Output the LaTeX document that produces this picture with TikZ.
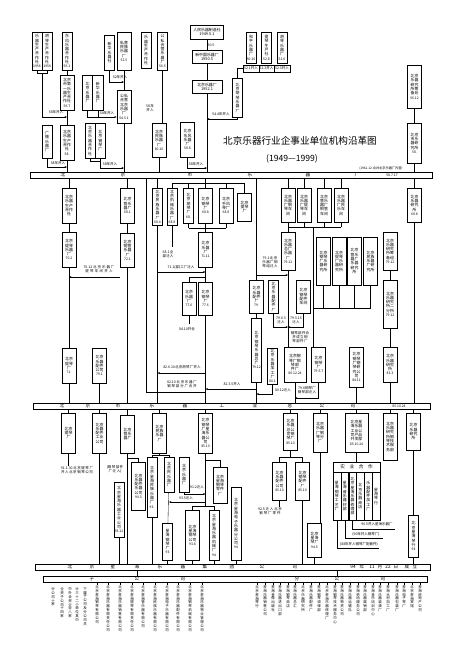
\documentclass[tikz,border=0pt]{standalone}
\usepackage{fontspec}
\setmainfont{Noto Sans CJK SC}
\usetikzlibrary{arrows.meta}
\XeTeXlinebreaklocale "zh"
\XeTeXlinebreakskip=0pt plus 1pt
\newcommand\boxsize{\fontsize{3.9}{4.3}\selectfont}
\newcommand\datesize{\fontsize{3.4}{4.3}\selectfont}
\newcommand\barsize{\fontsize{4.6}{5}\selectfont}
\newcommand\labsize{\fontsize{3.5}{4}\selectfont}
\newcommand\vtsize{\fontsize{3.5}{3.9}\selectfont}
\newcommand\yr[1]{\par\hbox to\hsize{\hss\datesize #1\hss}}
\tikzset{
  obox/.style={draw, anchor=north, inner xsep=3pt, inner ysep=1.2pt, text width=4.2pt, align=center, font=\boxsize},
  dbox/.style={obox, text width=8.2pt},
  tbox/.style={obox, text width=12.4pt, inner xsep=5pt},
  hbx/.style={draw, anchor=north, inner sep=1.3pt, align=center, font=\boxsize},
  cbox/.style={obox, inner xsep=1.9pt, text width=4pt},
  lab/.style={inner sep=0.4pt, align=center, font=\labsize},
  vt/.style={anchor=north, inner sep=0.3pt, text width=3.6pt, align=center, font=\vtsize},
  band/.style={draw, minimum height=6pt, inner sep=0pt, anchor=west},
  mv/.style={-{Stealth[length=2.4pt,width=1.8pt]}},
}
\begin{document}
\begin{tikzpicture}[x=1pt, y=-1pt, line width=0.35pt]
\fill[white] (0,0) rectangle (450,657);
\useasboundingbox (0,0) rectangle (450,657);

\node[band, minimum width=402pt] (bar1) at (30,175) {};
\node[band, minimum width=397pt] (bar2) at (33,406) {};
\node[band, minimum width=395pt] (bar3) at (35,567) {};
\node[band, minimum width=384pt] (bar4) at (43,579) {};
\foreach \x/\ch in {63/北,123/京,190/市,250/乐,308/器,357/厂}
  \node[font=\barsize] (a\x) at (\x,175) {\ch};
\node[font=\datesize] (a1) at (392,175) {58.7.17};
\foreach \x/\ch in {62/北,88/京,118/市,152/乐,185/器,222/工,255/业,290/总,322/公,353/司}
  \node[font=\barsize] (b\x) at (\x,406) {\ch};
\node[font=\datesize] (b1) at (399,406) {85.10.24};
\foreach \x/\ch in {70/北,92/京,113/星,137/海,160/乐,183/器,205/集,232/团,262/公,295/司,353/94,362/年,372/11,380/月,388/22,396/日,407/成,415/立}
  \node[font=\barsize] (c\x) at (\x,567) {\ch};
\foreach \x/\ch in {92/子,137/公,183/司,297/分,337/公,383/司}
  \node[font=\barsize] (d\x) at (\x,579) {\ch};
\draw (137,0 |- bar3.south) -- (137,0 |- bar4.north);
\draw (337,0 |- bar3.south) -- (337,0 |- bar4.north);

% 1949--1958
\node[obox, minimum height=38pt] (t1) at (37,32) {乐器生产合作社\yr{1956}};
\node[obox, minimum height=38pt] (t2) at (47.2,32) {胡琴生产合作社\yr{1956}};
\node[obox, minimum height=38pt] (t3) at (67,32) {东风乐器合作社\yr{56.1}};
\node[dbox, minimum height=35pt] (t4) at (67,75) {北京市第一乐器生产合作社\yr{56.7}};
\node[obox, minimum height=33pt] (t5) at (47,125) {广播乐器厂};
\node[dbox, minimum height=35pt] (t6) at (67,125) {北京乐器生产合作社\yr{58.}};
\node[lab] (t7) at (56,112) {58年并入};
\node[lab] (t8) at (58,163) {58年并入};
\coordinate (t12) at (42.1,73);
\draw (t1.south) |- (t2.south |- t12) -- (t2.south);
\draw[mv] (t12) |- (t4.south |- 0,117);
\draw (t3) -- (t4);
\draw (t4) -- (t6);
\draw[mv] (t5.south) |- (t6.south |- 0,167);
\draw (t6.south) -- (t6.south |- bar1.north);

\node[obox, minimum height=35pt] (m1) at (109.5,35) {新华乐器社};
\node[dbox, minimum height=38pt] (m2) at (124,32) {私营民族乐器厂\yr{52.5}};
\node[obox, minimum height=36pt] (m3) at (146,32) {乐器生产合作社};
\node[obox, minimum height=38pt] (m4) at (162.5,32) {公私合营乐器厂\yr{56.5}};
\node[obox, minimum height=35pt] (m5) at (87.5,75) {北京乐器厂};
\node[obox, minimum height=35pt] (m6) at (97.7,75) {新华乐器厂};
\node[dbox, minimum height=33pt] (m7) at (124,90) {公私合营北京乐器厂\yr{54.5.1}};
\node[obox, minimum height=35pt] (m8) at (90,123) {北京乐器合作社};
\node[obox, minimum height=35pt] (m9) at (100.2,123) {北京钢琴厂};
\node[dbox, minimum height=34pt] (m10) at (159,123) {北京民族乐器厂\yr{60.10}};
\node[dbox, minimum height=35pt] (m11) at (187.5,122) {北京东风乐器厂\yr{58.8}};
\node[lab] (m12) at (120,77) {52年并入};
\node[lab] (m13) at (107,113) {54年并入};
\node[lab] (m14) at (110,164) {58年并入};
\node[lab, text width=10pt] (m15) at (150,108) {58年并入};
\node[lab] (m16) at (196,164) {58年并入};
\draw (m2) -- (m7);
\draw[mv] (m1.south) |- (m2.south |- 0,82);
\draw (m5.south) |- (m6.south |- 0,117);
\draw[mv] (m6.south) |- (m7.west |- 0,117);
\draw (m7.south) -- (m7.south |- bar1.north);
\draw (m8.south) |- (m9.south |- 0,161);
\draw[mv] (m9.south) |- (m7.south |- 0,168);
\draw (m4.south) -- (m4.south |- m10.north);
\draw (m10.south) -- (m10.south |- bar1.north);

\node[hbx, minimum width=33pt, minimum height=14pt] (c1) at (207,25) {人民乐器制造社\\1949.5.1};
\node[lab] (c4) at (211,45) {50.5};
\node[hbx, minimum width=30pt, minimum height=13pt] (c2) at (207,50) {新中国乐器厂\\1950.5};
\node[hbx, minimum width=30pt, minimum height=13pt] (c3) at (207,80) {北京乐器厂\\1952.1};
\draw (c1) -- (c2);
\draw (c2) -- (c3);
\draw (c3.south) -- (c3.south |- bar1.north);
\draw[mv] (m11.south) |- (c3.south |- 0,168);

\node[obox, minimum height=31pt] (d1) at (251,32) {和平乐器厂\yr{50.10}};
\node[obox, minimum height=31pt] (d2) at (266.5,32) {提琴生产社\yr{52.8}};
\node[obox, minimum height=31pt] (d3) at (282,32) {胡琴乐器厂\yr{51.6}};
\node[lab, draw, minimum width=15.5pt, minimum height=7pt] (d5) at (251,68.5) {52.1并入};
\node[lab, draw, minimum width=15.5pt, minimum height=7pt] (d6) at (266.5,68.5) {52.3并入};
\node[lab, draw, minimum width=15.5pt, minimum height=7pt] (d7) at (282,68.5) {52.3并入};
\node[obox, minimum height=39pt] (d4) at (237.5,78) {北京胡琴乐器厂};
\node[lab] (d8) at (221,114) {54.4年并入};
\draw (d5.west) -| (d4.north);
\draw[mv] (d4.south) |- (c3.south |- 0,119);

\node[font=\fontsize{9.6}{11}\selectfont] (ttl) at (300,141) {北京乐器行业企事业单位机构沿革图};
\node[font=\fontsize{8.6}{10}\selectfont] (yrs) at (292,159) {(1949—1999)};

\node[dbox, minimum height=43pt] (e1) at (414.5,65) {北京乐器研究所筹备处\yr{56.12}};
\node[dbox, minimum height=40pt] (e2) at (414.5,123) {北京市乐器研究所\yr{58.}};
\node[lab, font=\fontsize{3.2}{4}\selectfont] (e3) at (381,168) {(1961.12.合并北京乐器厂内营)};
\draw (e1) -- (e2);
\draw (e2.south) -- (e2.south |- bar1.north);

% 1958--1985
\node[dbox, minimum height=35pt] (f1) at (69,188) {北京乐器生产合作社};
\node[dbox, minimum height=35pt] (f2) at (69,232) {北京提琴乐器厂\yr{70.2}};
\node[dbox, minimum height=35pt] (f3) at (69,348) {北京提琴厂\yr{71.}};
\node[dbox, minimum height=35pt] (f4) at (99.5,348) {北京乐器配件公司\yr{79.1}};
\node[dbox, minimum height=35pt] (f5) at (127.5,188) {北京管乐器厂\yr{68.1}};
\node[dbox, minimum height=34pt] (f6) at (127.5,233) {北京铜管乐器厂\yr{72.1}};
\node[lab, text width=44pt] (f7) at (99,269) {70.12北京乐器厂提琴车间并入};
\coordinate (f8) at (120,277);
\draw (bar1.south -| f1.north) -- (f1.north);
\draw (f1) -- (f2);
\draw (f2) -- (f3);
\draw (f3.south) -- (f3.south |- bar2.north);
\draw[mv] (f8) -- (f8 -| f2.south);
\draw (f4.south) -- (f4.south |- bar2.north);
\draw (bar1.south -| f5.north) -- (f5.north);
\draw (f5) -- (f6);
\draw (f6.south) -- (f6.south |- bar2.north);

\node[obox, minimum height=37pt] (g1) at (157.5,188) {北京民族乐器厂\yr{68.4}};
\node[obox, minimum height=37pt] (g2) at (172,188) {北京机械乐器厂\yr{68.8}};
\node[obox, minimum height=35pt] (g3) at (188.5,188) {北京胡琴厂\yr{68.}};
\node[dbox, minimum height=35pt] (g4) at (205.5,188) {北京钢琴厂\yr{68.8}};
\node[dbox, minimum height=35pt] (g5) at (226,188) {北京手风琴厂\yr{68.8}};
\node[dbox, minimum height=28pt] (g9) at (244.5,193) {北京提琴厂};
\node[dbox, minimum height=35pt] (g6) at (205.5,232) {北京乐器厂\yr{71.11}};
\node[dbox, minimum height=33pt] (g7) at (189,282) {北京乐器厂\yr{77.6}};
\node[dbox, minimum height=33pt] (g8) at (205.5,282) {北京钢琴厂\yr{77.6}};
\node[lab, text width=14pt] (g10) at (168,254) {68.1全部迁入};
\node[lab] (g11) at (181,267) {71.1(部)工厂迁入};
\node[lab] (g12) at (187,329) {84.10并合};
\node[lab, text width=40pt] (g13) at (182,367) {82.6.10北京胡琴厂并入};
\node[lab, text width=40pt] (g14) at (182,384) {82.10北京乐器厂钢琴部分厂合并};
\node[lab] (g15) at (232,384) {82.3.5并入};
\coordinate (gt) at (205.5,183);
\coordinate (lp) at (146,392);
\draw (bar1.south -| g1.north) -- (g1.north);
\draw (g1.south) -- (g1.south |- bar2.north);
\draw (bar1.south -| gt) -- (gt);
\draw (g2.north |- gt) -- (g9.north |- gt);
\foreach \n in {g2,g3,g4,g5,g9}
  \draw (\n.north |- gt) -- (\n.north);
\foreach \n in {g3,g4,g5}
  \draw (\n.south) -- (\n.south |- 0,228);
\draw (g3.south |- 0,228) -- (g5.south |- 0,228);
\draw (g4.south |- 0,228) -- (g6.north);
\draw (g2.south) -- (g2.south |- 0,247);
\draw[mv] (g1.south |- 0,272) -- (g6.south |- 0,272);
\draw (g6) -- (g8);
\draw (g7.north) |- (g8.north |- 0,277);
\draw (g7.south) -- (g7.south |- 0,324);
\draw (g8.south) -- (g8.south |- bar2.north);
\draw (bar1.south -| lp) -- (lp) -- (lp -| g8.south);
\draw[mv] (g8.south |- 0,373) -- (g1.south |- 0,373);

\node[dbox, minimum height=33pt] (i1) at (256.5,280) {北京乐器配件厂\yr{79.}};
\node[obox, minimum height=33pt] (i2) at (273.5,280) {北京乐器配件厂};
\node[dbox, minimum height=33pt] (i3) at (303.5,280) {北京钢琴配件车间};
\node[lab, text width=20pt] (i4) at (270,262) {79.1北京乐器厂钢琴组迁入};
\node[lab, text width=10pt] (i5) at (281,320) {79.6.3迁入};
\node[lab, text width=12pt] (i6) at (296,320) {79.5.15迁入};
\node[lab, text width=22pt] (i7) at (300,337) {钢琴部件合并成立钢琴部件厂};

\node[dbox, minimum height=34pt] (h1) at (288,188) {北京乐器厂钢琴车间};
\node[dbox, minimum height=34pt] (h2) at (304,188) {北京乐器厂提琴车间};
\node[dbox, minimum height=34pt] (h3) at (324,188) {北京管乐器厂铜管车间};
\node[dbox, minimum height=34pt] (h4) at (341,188) {北京乐器厂民乐车间};
\node[dbox, minimum height=38pt] (h5) at (288,232) {北京乐器总厂乐器厂\yr{79.12}};
\node[dbox, minimum height=48pt] (h6) at (323.5,237) {北京钢琴厂乐器研究所};
\node[dbox, minimum height=48pt] (h7) at (339,237) {北京提琴厂乐器研究所};
\node[dbox, minimum height=48pt] (h8) at (354.5,237) {北京管乐器厂乐器研究所};
\node[dbox, minimum height=48pt] (h9) at (370.5,237) {北京民族乐器厂研究所};
\node[dbox, minimum height=38pt] (h10) at (390,232) {北京乐器研究所筹备组\yr{79.12}};
\node[dbox, minimum height=48pt] (h11) at (390,280) {北京乐器研究所二分所\yr{79.12}};
\node[dbox, minimum height=34pt] (h12) at (414.5,188) {北京乐器研究所\yr{68.8}};
\coordinate (hj) at (313,227);

\node[obox, minimum height=64pt] (j1) at (256.5,318) {北京钢琴乐器总厂\yr{79.12}};
\node[obox, minimum height=34pt] (j2) at (272.5,348) {北京乐器加工厂\yr{80.1}};
\node[tbox, minimum height=35pt] (j3) at (295,347) {北京钢琴厂钢琴部件厂\yr{80.12.24}};
\node[dbox, minimum height=35pt] (j4) at (318.5,347) {北京钢琴厂\yr{79.5.7}};
\node[dbox, minimum height=40pt] (j5) at (356.5,347) {北京钢琴厂钢琴研究公司\yr{84.11}};
\node[dbox, minimum height=35pt] (j6) at (390,347) {北京乐器研究所\yr{83.3}};
\node[lab] (j7) at (283,390) {80.12迁入};
\node[lab, text width=20pt] (j8) at (307,390) {79.4钢琴厂钢琴部迁入};

\draw (bar1.south -| i1.north) -- (i1.north);
\draw[mv] (i1.north |- 0,275) -- (h5.south |- 0,275);
\draw (i1) -- (j1);
\draw (j1.south) -- (j1.south |- bar2.north);
\draw[mv] (j1.south |- 0,389) -- (g8.south |- 0,389);
\foreach \n in {h1,h2,h3,h4} {
  \draw (bar1.south -| \n.north) -- (\n.north);
  \draw (\n.south) -- (\n.south |- hj);
}
\draw (h1.south |- hj) -- (h4.south |- hj);
\draw (h1.south |- hj) -- (h5.north);
\draw (h5.south) -- (h5.south |- j3.north);
\draw[mv] (i2.south) |- (h5.south |- 0,327);
\draw[mv] (i3.south) |- (h5.south |- 0,327);
\foreach \n in {h6,h7,h8,h9}
  \draw (\n.south) -- (\n.south |- 0,308);
\draw (hj |- 0,308) -- (h9.south |- 0,308);
\draw (hj) -- (hj |- j4.north);
\draw (h10) -- (h11);
\draw (h11) -- (j6);
\draw (bar1.south -| h12.north) -- (h12.north);
\draw (h12.south) -- (h12.south |- bar2.north);
\draw[mv] (j2.south) |- (j1.south |- 0,394);
\draw (j3.south) -- (j3.south |- bar2.north);
\draw[mv] (j4.south) |- (j3.south |- 0,398);
\draw (j5.south) -- (j5.south |- bar2.north);
\draw (j6.south) -- (j6.south |- bar2.north);

% 1985--1994
\node[dbox, minimum height=40pt] (k1) at (68.5,413) {北京提琴厂};
\node[dbox, minimum height=40pt] (k2) at (99.5,413) {北京乐器配件工业公司};
\node[dbox, minimum height=38pt] (k3) at (127.5,415) {北京管乐器厂};
\node[dbox, minimum height=40pt] (k4) at (159.5,413) {北京民族乐器厂};
\node[dbox, minimum height=40pt] (k5) at (205.5,413) {北京钢琴厂星海乐器公司\yr{85.10}};
\node[lab, text width=40pt] (k6) at (77,470) {91.1.30北京提琴厂并入北京钢琴公司};
\node[lab, text width=22pt] (k7) at (115,469) {(钢琴部件厂迁入)};
\foreach \n in {k1,k2,k3,k4,k5}
  \draw (bar2.south -| \n.north) -- (\n.north);
\draw (k1.south) -- (k1.south |- k6.north);
\draw (k2.south) -- (k2.south |- bar3.north);
\draw (k3.south) -- (k3.south |- bar3.north);

\node[dbox, minimum height=48pt] (l1) at (138.5,462) {北京乐器配件乐器公司\yr{90.3}};
\node[obox, minimum height=55pt] (l2) at (119,482) {北京星海乐器工业公司\yr{93.12}};
\node[obox, minimum height=60pt] (l3) at (152,457) {北京星海民族乐器厂\yr{93.}};
\node[obox, minimum height=35pt] (l4) at (169,457) {北京民乐器厂};
\node[obox, minimum height=35pt] (l5) at (184,457) {北京乐器厂};
\node[dbox, minimum height=36pt] (l6) at (220,467) {北京星海钢琴零件厂};
\node[obox, minimum height=37pt] (p3) at (167.5,523) {星海钢琴厂\yr{93}};
\node[dbox, minimum height=50pt] (p4) at (192.5,510) {北京星海钢琴公司\yr{93.8}};
\node[obox, minimum height=50pt] (p5) at (214,510) {北京星海乐器机械厂\yr{94}};
\node[obox, minimum height=73pt] (o1) at (236,487) {北京星海电子乐器分公司\yr{94}};
\node[lab] (l7) at (197,487) {91.2迁入};
\node[lab] (l8) at (186,498) {93.5迁入};
\draw (k3.south |- 0,458) -| (l1.north);
\draw (l2.south) -- (l2.south |- bar3.north);
\draw (k4.south) -- (k4.south |- 0,455);
\draw (l3.north |- 0,455) -- (l4.north |- 0,455);
\draw (l3.north |- 0,455) -- (l3.north);
\draw (l4.north |- 0,455) -- (l4.north);
\draw (l3.south) -- (l3.south |- bar3.north);
\draw (l4) -- (p3);
\draw (p3.south) -- (p3.south |- bar3.north);
\draw (k5.south) -- (k5.south |- 0,506);
\draw (k5.south |- 0,460) -| (l6.north);
\draw[mv] (l5.south) |- (k5.south |- 0,494);
\draw[mv] (k5.south |- 0,502) -- (l4.south |- 0,502);
\draw (p4.north) |- (p5.north |- 0,506) -- (p5.north);
\draw (p4.south) -- (p4.south |- bar3.north);
\draw (p5.south) -- (p5.south |- bar3.north);
\draw (o1.south) -- (o1.south |- bar3.north);

\node[dbox, minimum height=37pt] (n1) at (290.5,413) {北京乐器总公司钢琴厂\yr{85.10}};
\node[dbox, minimum height=39pt] (n2) at (320,413) {北京乐器厂钢琴分厂};
\node[tbox, minimum height=39pt] (n3) at (356.5,413) {北京星海乐器工业公司产品开发部\yr{85.10.24}};
\node[dbox, minimum height=47pt] (n4) at (390,413) {北京乐器研究所钢琴技术服务部};
\node[dbox, minimum height=37pt] (n5) at (413.5,413) {北京乐器研究所};
\node[dbox, minimum height=38pt] (n6) at (279.5,462) {北京乐器配件公司\yr{85.10}};
\node[dbox, minimum height=38pt] (n7) at (302.5,462) {北京钢琴配件厂\yr{85.10}};
\node[lab, text width=34pt] (n8) at (270,511) {92.5迁入北京钢琴厂零件};
\node[dbox, minimum height=34pt] (o2) at (314.5,523) {北京星海琴厂\yr{94.5}};
\node[obox, minimum height=42pt] (o3) at (413.5,515) {北京星海琴行\yr{94}};
\foreach \n in {n1,n2,n3,n4,n5}
  \draw (bar2.south -| \n.north) -- (\n.north);
\draw (n1.south) -- (n1.south |- 0,457);
\draw (n6.north |- 0,457) -- (n7.north |- 0,457);
\draw (n6.north |- 0,457) -- (n6.north);
\draw (n7.north |- 0,457) -- (n7.north);
\draw (n6.south) -- (n6.south |- n8.north);
\draw (n7.south) -- (n7.south |- bar3.north);
\draw (n2.south) -- (n2.south |- o2.north);
\draw (o2.south) -- (o2.south |- bar3.north);
\draw (n5.south) -- (o3.north);
\draw (o3.south) -- (o3.south |- bar3.north);

\node[draw, anchor=north, minimum width=47pt, minimum height=10pt, inner sep=0pt, font=\barsize] (sy) at (356.5,462) {实\quad 业\quad 合\quad 作};
\foreach \idx/\x/\txt in {1/336.9/星海钢琴工艺厂,2/344.7/星海音乐器材部,3/352.6/北京星海乐器修理部,4/360.4/北京乐器商店,5/368.3/乐器配件加工厂,6/376.1/星海琴行}
  \node[cbox, minimum height=48pt] (s\idx) at (\x,472) {\txt};
\node[lab] (s7) at (377,524) {96.5并入星海乐器厂};
\node[lab] (s8) at (366,534) {(90年并入钢琴厂)};
\node[lab] (s9) at (359,544) {(88年并入钢琴厂配套件)};
\draw (n3.south) -- (sy.north);
\draw (s3.south) |- (395,529);
\draw (s2.south) |- (383,538);
\draw (s1.south) |- (379,548);

% 1994--1999
\foreach \x/\txt in {97/北京星海钢琴有限公司,108/北京星海乐器有限责任公司,120/北京星海乐器销售有限公司,132/北京星海提琴有限责任公司,143/北京星海管乐器有限公司,155/北京星海民族乐器有限公司,167/北京星海电子乐器有限公司,178/北京星海乐器配件有限公司,190/北京星海钢琴机械有限公司,202/北京星海乐器物业管理公司} {
  \draw (\x,0 |- bar4.south) -- (\x,585);
  \node[vt] (v\x) at (\x,585) {\txt};
}
\foreach \x/\txt in {85/下属子公司及分公司共,77/计三十二个单位其中,70/中外合资企业八家,62/全资子公司十四家,53/分公司十家}
  \node[vt] (w\x) at (\x,587) {\txt};
\foreach \x/\txt in {257/北京星海琴行,265/星海乐器销售公司,273/星海音像出版社,280/星海乐器进出口部,288/星海钢琴商店,295/星海乐器总汇,303/北京乐器研究所,311/星海乐器配件厂,319/星海钢琴调律部,327/北京星海乐器修理厂,335/星海钢琴技术服务中心,342/星海乐器物资公司,350/星海乐器运输队,358/星海劳动服务公司,365/星海乐器展销部,373/星海音乐培训中心,380/星海乐器装潢厂,388/星海木材加工厂,397/星海乐器包装厂,404/星海电子琴厂,412/北京星海宾馆,420/星海房地产公司} {
  \draw (\x,0 |- bar4.south) -- (\x,585);
  \node[vt] (r\x) at (\x,585) {\txt};
}
\end{tikzpicture}
\end{document}
